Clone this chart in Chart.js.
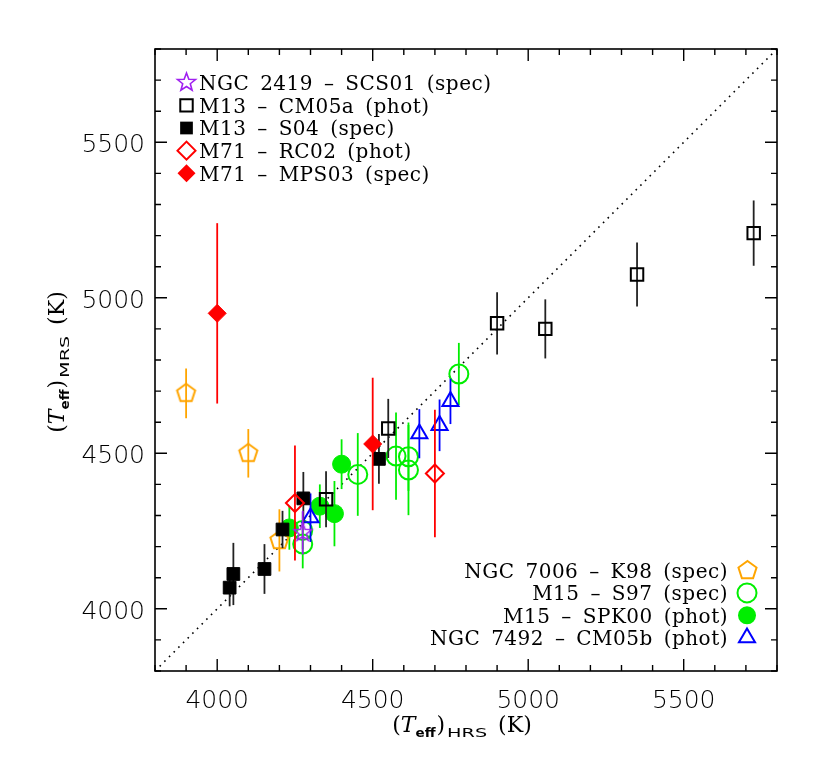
<!DOCTYPE html>
<html><head><meta charset="utf-8">
<script src="https://cdn.jsdelivr.net/npm/chart.js@4.4.1/dist/chart.umd.min.js"></script>
<style>html,body{margin:0;padding:0;background:#fff;}#wrap{width:830px;height:771px;}</style>
</head><body><div id="wrap"><canvas id="c" width="830" height="771"></canvas></div>
<script>
// ---------------- DATA ----------------
const axisMin = 3800, axisMax = 5800;
const majorTicks = [4000, 4500, 5000, 5500];
const minorStep = 100;

const legendTopLabels = ['NGC 2419 – SCS01 (spec)', 'M13 – CM05a (phot)', 'M13 – S04 (spec)', 'M71 – RC02 (phot)', 'M71 – MPS03 (spec)'];
const legendBottomLabels = ['NGC 7006 – K98 (spec)', 'M15 – S97 (spec)', 'M15 – SPK00 (phot)', 'NGC 7492 – CM05b (phot)'];

// NGC 2419 – SCS01 (spec)
const scs01_x = [4275];
const scs01_y = [4245];
const scs01_err = [70];
// M13 – CM05a (phot)
const cm05a_x = [4350, 4550, 4900, 5055, 5350, 5725];
const cm05a_y = [4352, 4580, 4918, 4900, 5075, 5208];
const cm05a_err = [90, 95, 100, 95, 103, 105];
// M13 – S04 (spec)
const s04_x = [4040, 4052, 4152, 4210, 4277, 4520];
const s04_y = [4068, 4112, 4128, 4255, 4355, 4482];
const s04_err = [60, 100, 80, 60, 85, 80];
// M71 – RC02 (phot)
const rc02_x = [4250, 4700];
const rc02_y = [4340, 4435];
const rc02_err = [185, 205];
// M71 – MPS03 (spec)
const mps03_x = [4000, 4500];
const mps03_y = [4950, 4530];
const mps03_err = [290, 213];
// NGC 7006 – K98 (spec)
const k98_x = [3900, 4100, 4200];
const k98_y = [4693, 4500, 4220];
const k98_err = [80, 78, 100];
// M15 – S97 (spec)
const s97_x = [4275, 4275, 4452, 4575, 4615, 4615, 4777];
const s97_y = [4208, 4252, 4432, 4491, 4489, 4446, 4755];
const s97_err = [78, 60, 133, 140, 110, 145, 100];
// M15 – SPK00 (phot)
const spk00_x = [4232, 4330, 4377, 4400];
const spk00_y = [4260, 4330, 4306, 4465];
const spk00_err = [70, 70, 105, 80];
// NGC 7492 – CM05b (phot)
const cm05b_x = [4300, 4650, 4715, 4750];
const cm05b_y = [4293, 4563, 4590, 4667];
const cm05b_err = [78, 79, 83, 73];

// ---------------- STYLES ----------------
const C_PURPLE = '#a020f0', C_RED = '#ff0000', C_ORANGE = '#ffa500', C_GREEN = '#00ee00', C_BLUE = '#0000ff', C_BLACK = '#000000';

function makePoly(color, R, lw, star) {
  const s = Math.ceil(2 * R + 2 * lw + 2);
  const c = document.createElement('canvas'); c.width = s; c.height = s;
  const g = c.getContext('2d');
  g.strokeStyle = color; g.lineWidth = lw; g.lineJoin = 'miter';
  g.beginPath();
  const n = star ? 10 : 5;
  for (let i = 0; i < n; i++) {
    const a = -Math.PI / 2 + i * 2 * Math.PI / n;
    const rr = star ? (i % 2 ? R * 0.42 : R) : R;
    const px = s / 2 + rr * Math.cos(a), py = s / 2 + rr * Math.sin(a);
    if (i) g.lineTo(px, py); else g.moveTo(px, py);
  }
  g.closePath(); g.stroke();
  return c;
}
const pentagonImg = makePoly(C_ORANGE, 9.5, 2, false);
const starImg = makePoly(C_PURPLE, 9.5, 1.6, true);

function pts(xs, ys) { return xs.map((x, i) => ({ x: x, y: ys[i] })); }

// drawing sequence: first = bottom, last = top
const seriesDefs = [
  { label: legendBottomLabels[2], x: spk00_x, y: spk00_y, err: spk00_err, style: 'circle', r: 9, color: C_GREEN, fill: true },
  { label: legendBottomLabels[1], x: s97_x, y: s97_y, err: s97_err, style: 'circle', r: 9.5, color: C_GREEN, fill: false },
  { label: legendBottomLabels[3], x: cm05b_x, y: cm05b_y, err: cm05b_err, style: 'triangle', r: 9.3, color: C_BLUE, fill: false },
  { label: legendBottomLabels[0], x: k98_x, y: k98_y, err: k98_err, style: pentagonImg, r: 9, color: C_ORANGE, fill: false },
  { label: legendTopLabels[1], x: cm05a_x, y: cm05a_y, err: cm05a_err, style: 'rect', r: 8.8, color: C_BLACK, fill: false, barColor: '#222' },
  { label: legendTopLabels[2], x: s04_x, y: s04_y, err: s04_err, style: 'rect', r: 9, color: C_BLACK, fill: true, barColor: '#222' },
  { label: legendTopLabels[3], x: rc02_x, y: rc02_y, err: rc02_err, style: 'rectRot', r: 9, color: C_RED, fill: false },
  { label: legendTopLabels[4], x: mps03_x, y: mps03_y, err: mps03_err, style: 'rectRot', r: 9, color: C_RED, fill: true },
  { label: legendTopLabels[0], x: scs01_x, y: scs01_y, err: scs01_err, style: starImg, r: 9, color: C_PURPLE, fill: false },
];

const datasets = seriesDefs.map((s, i) => ({
  label: s.label,
  data: pts(s.x, s.y),
  errs: s.err,
  barColor: s.barColor || s.color,
  pointStyle: s.style,
  pointRadius: s.r,
  pointHoverRadius: s.r,
  borderColor: s.color,
  backgroundColor: s.fill ? s.color : 'rgba(0,0,0,0)',
  pointBorderWidth: s.fill ? 1 : 2,
  borderWidth: s.fill ? 1 : 2,
  order: seriesDefs.length - i,
  showLine: false,
}));

// ---------------- HELPERS ----------------
function drawMarker(ctx, s, x, y) {
  ctx.save();
  ctx.strokeStyle = s.color; ctx.fillStyle = s.color; ctx.lineWidth = 2;
  if (typeof s.style !== 'string') {
    ctx.drawImage(s.style, Math.round(x - s.style.width / 2), Math.round(y - s.style.height / 2));
    ctx.restore(); return;
  }
  const r = s.r;
  ctx.beginPath();
  if (s.style === 'circle') ctx.arc(x, y, r, 0, Math.PI * 2);
  else if (s.style === 'rect') { const h = r * Math.SQRT1_2; ctx.rect(x - h, y - h, 2 * h, 2 * h); }
  else if (s.style === 'rectRot') { ctx.moveTo(x - r, y); ctx.lineTo(x, y - r); ctx.lineTo(x + r, y); ctx.lineTo(x, y + r); ctx.closePath(); }
  else if (s.style === 'triangle') {
    for (let i = 0; i < 3; i++) { const a = -Math.PI / 2 + i * 2 * Math.PI / 3; const px = x + r * Math.cos(a), py = y + r * Math.sin(a); if (i) ctx.lineTo(px, py); else ctx.moveTo(px, py); }
    ctx.closePath();
  }
  if (s.fill) ctx.fill(); else ctx.stroke();
  ctx.restore();
}

function drawPieces(ctx, pieces, cx, baseY) {
  let total = 0; const ws = [];
  pieces.forEach(p => { ctx.font = p.f; const m = ctx.measureText(p.t).width; const w = p.w || m; ws.push({ m, w }); total += (p.gap || 0) + w; });
  let x = cx - total / 2;
  pieces.forEach((p, i) => {
    x += (p.gap || 0);
    ctx.save();
    ctx.font = p.f; ctx.textAlign = 'left'; ctx.textBaseline = 'alphabetic'; ctx.fillStyle = '#000';
    ctx.translate(x, baseY + (p.dy || 0));
    ctx.scale(ws[i].w / ws[i].m, 1);
    ctx.fillText(p.t, 0, 0);
    ctx.restore();
    x += ws[i].w;
  });
}
function titlePieces(sub) {
  const F = '22px "DejaVu Serif"';
  return [
    { t: '(', f: F },
    { t: 'T', f: 'italic 22px "DejaVu Serif"', gap: 0 },
    { t: 'eff', f: 'bold 12px "DejaVu Sans"', w: 20, dy: 5, gap: 0 },
    { t: ')', f: F, gap: 1 },
    { t: sub, f: '13px "DejaVu Sans"', w: sub === 'MRS' ? 42 : 40, dy: 5, gap: 2 },
    { t: '(', f: F, gap: 11 },
    { t: 'K', f: F },
    { t: ')', f: F },
  ];
}

const TICK_FONT = '200 25px "DejaVu Sans"';
const LEG_FONT = '20px "DejaVu Serif"';

const decor = {
  id: 'decor',
  beforeDatasetsDraw(chart) {
    const ctx = chart.ctx, xs = chart.scales.x, ys = chart.scales.y;
    ctx.save();
    ctx.strokeStyle = '#000'; ctx.lineWidth = 1.6; ctx.setLineDash([1.6, 5.0]);
    ctx.beginPath();
    ctx.moveTo(xs.getPixelForValue(axisMin), ys.getPixelForValue(axisMin));
    ctx.lineTo(xs.getPixelForValue(axisMax), ys.getPixelForValue(axisMax));
    ctx.stroke();
    ctx.restore();
  },
  beforeDatasetDraw(chart, args) {
    const ds = chart.data.datasets[args.index];
    const ctx = chart.ctx, xs = chart.scales.x, ys = chart.scales.y;
    ctx.save();
    ctx.strokeStyle = ds.barColor; ctx.lineWidth = 1.8;
    ds.data.forEach((p, i) => {
      const px = xs.getPixelForValue(p.x);
      ctx.beginPath();
      ctx.moveTo(px, ys.getPixelForValue(p.y - ds.errs[i]));
      ctx.lineTo(px, ys.getPixelForValue(p.y + ds.errs[i]));
      ctx.stroke();
    });
    ctx.restore();
  },
  afterDraw(chart) {
    const ctx = chart.ctx, xs = chart.scales.x, ys = chart.scales.y, a = chart.chartArea;
    ctx.save();
    // frame
    ctx.strokeStyle = '#000'; ctx.lineWidth = 1.6;
    ctx.strokeRect(a.left, a.top, a.right - a.left, a.bottom - a.top);
    // ticks
    ctx.lineWidth = 1.4;
    for (let v = axisMin; v <= axisMax; v += minorStep) {
      const len = majorTicks.includes(v) ? 12 : 6;
      const px = xs.getPixelForValue(v), py = ys.getPixelForValue(v);
      ctx.beginPath();
      ctx.moveTo(px, a.bottom); ctx.lineTo(px, a.bottom - len);
      ctx.moveTo(px, a.top); ctx.lineTo(px, a.top + len);
      ctx.moveTo(a.left, py); ctx.lineTo(a.left + len, py);
      ctx.moveTo(a.right, py); ctx.lineTo(a.right - len, py);
      ctx.stroke();
    }
    // tick labels
    ctx.fillStyle = '#000'; ctx.font = TICK_FONT; ctx.textBaseline = 'alphabetic';
    majorTicks.forEach(v => {
      ctx.textAlign = 'center';
      ctx.fillText(String(v), xs.getPixelForValue(v), 708);
      ctx.textAlign = 'right';
      ctx.fillText(String(v), 145, ys.getPixelForValue(v) + 10);
    });
    // titles
    drawPieces(ctx, titlePieces('HRS'), 462, 732);
    ctx.save(); ctx.translate(64, 362); ctx.rotate(-Math.PI / 2);
    drawPieces(ctx, titlePieces('MRS'), 0, 0);
    ctx.restore();
    // legends
    ctx.font = LEG_FONT; ctx.fillStyle = '#000';
    ctx.letterSpacing = '0.5px'; ctx.wordSpacing = '4px';
    const topOrder = [8, 4, 5, 6, 7];
    topOrder.forEach((si, i) => {
      const cy = 82.7 + i * 22.65;
      drawMarker(ctx, seriesDefs[si], 186.5, cy);
      ctx.font = LEG_FONT; ctx.fillStyle = '#000'; ctx.textAlign = 'left';
      ctx.fillText(seriesDefs[si].label, 199, cy + 7.3);
    });
    const botOrder = [3, 1, 0, 2];
    botOrder.forEach((si, i) => {
      const cy = 570.5 + i * 22.4;
      drawMarker(ctx, seriesDefs[si], 747, cy);
      ctx.font = LEG_FONT; ctx.fillStyle = '#000'; ctx.textAlign = 'right';
      ctx.fillText(seriesDefs[si].label, 728, cy + 7.3);
    });
    ctx.letterSpacing = '0px'; ctx.wordSpacing = '0px';
    ctx.restore();
  }
};

new Chart(document.getElementById('c'), {
  type: 'scatter',
  data: { datasets: datasets },
  options: {
    responsive: false,
    animation: false,
    devicePixelRatio: 1,
    layout: { padding: { left: 155, right: 53, top: 49, bottom: 100 } },
    plugins: { legend: { display: false }, tooltip: { enabled: false } },
    events: [],
    scales: {
      x: { type: 'linear', min: axisMin, max: axisMax, display: false },
      y: { type: 'linear', min: axisMin, max: axisMax, display: false },
    },
  },
  plugins: [decor],
});
</script>
</body></html>
